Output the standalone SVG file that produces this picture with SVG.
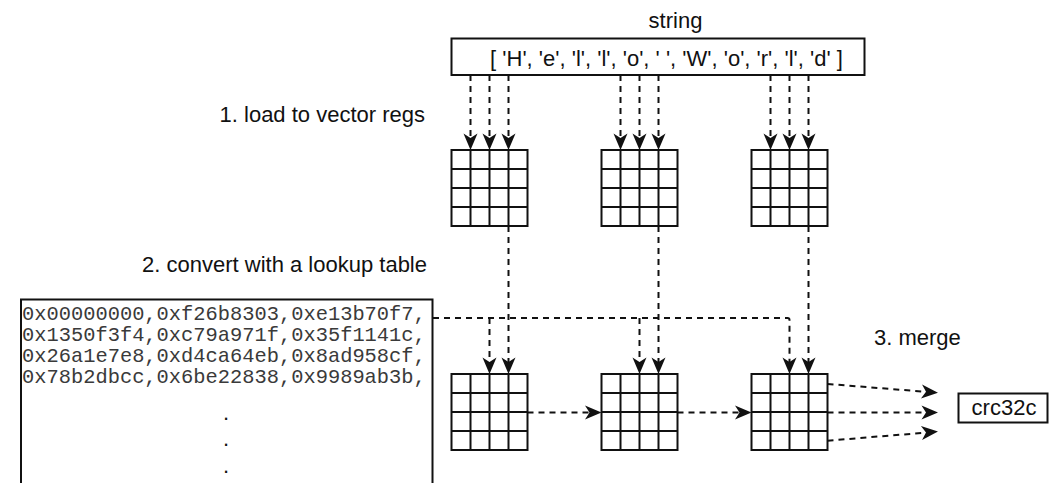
<svg xmlns="http://www.w3.org/2000/svg" width="1049" height="483" viewBox="0 0 1049 483">
<style>
.lbl{font-family:"Liberation Sans",Arial,sans-serif;font-size:22px;fill:#111}
.mono{font-family:"Liberation Mono","Courier New",monospace;font-size:20.4px;fill:#3a3a3a}
.box{fill:#fff;stroke:#111;stroke-width:2}
.grid{fill:#fff;stroke:#111;stroke-width:2}
.gl{stroke:#111;stroke-width:2;fill:none}
.dash{fill:none;stroke:#111;stroke-width:2;stroke-dasharray:6 5}
.arr{marker-end:url(#ah)}
</style>
<defs>
<marker id="ah" markerUnits="userSpaceOnUse" viewBox="-6 -8 19 16" refX="0" refY="0" markerWidth="19" markerHeight="16" orient="auto">
<path d="M12,0 L-4.5,-7 L0,0 L-4.5,7 Z" fill="#111"/>
</marker>
<g id="grid4">
<rect class="grid" x="0" y="0" width="76" height="76"/>
<path class="gl" d="M19,0V76M38,0V76M57,0V76M0,19H76M0,38H76M0,57H76"/>
</g>
</defs>
<rect width="1049" height="483" fill="#fff"/>

<g id="labels">
<text class="lbl" x="675.5" y="28" text-anchor="middle">string</text>
<text class="lbl" x="425" y="121.5" text-anchor="end">1. load to vector regs</text>
<text class="lbl" x="427" y="271.5" text-anchor="end">2. convert with a lookup table</text>
<text class="lbl" x="874" y="345">3. merge</text>
</g>

<g id="string-node">
<rect class="box" x="451.5" y="38.5" width="413" height="36.5"/>
<text class="lbl" x="666.5" y="66" text-anchor="middle">[ 'H', 'e', 'l', 'l', 'o', ' ', 'W', 'o', 'r', 'l', 'd' ]</text>
</g>

<g id="reg-top-1"><use href="#grid4" x="451.5" y="150"/></g>
<g id="reg-top-2"><use href="#grid4" x="601.5" y="150"/></g>
<g id="reg-top-3"><use href="#grid4" x="751.5" y="150"/></g>
<g id="reg-bot-1"><use href="#grid4" x="451.5" y="374"/></g>
<g id="reg-bot-2"><use href="#grid4" x="601.5" y="374"/></g>
<g id="reg-bot-3"><use href="#grid4" x="751.5" y="374"/></g>

<g id="lookup-table">
<rect class="box" x="21" y="299.5" width="411.5" height="200"/>
<text class="mono" x="22" y="319.5">0x00000000,0xf26b8303,0xe13b70f7,</text>
<text class="mono" x="22" y="340.7">0x1350f3f4,0xc79a971f,0x35f1141c,</text>
<text class="mono" x="22" y="361.9">0x26a1e7e8,0xd4ca64eb,0x8ad958cf,</text>
<text class="mono" x="22" y="383.1">0x78b2dbcc,0x6be22838,0x9989ab3b,</text>
<text class="lbl" x="226" y="419.5" text-anchor="middle">.</text>
<text class="lbl" x="226" y="446" text-anchor="middle">.</text>
<text class="lbl" x="226" y="472.5" text-anchor="middle">.</text>
</g>

<g id="crc32c-node">
<rect class="box" x="958.5" y="393.5" width="89" height="29"/>
<text class="lbl" x="1004" y="415" text-anchor="middle">crc32c</text>
</g>

<g id="connectors">
<path class="dash arr" d="M470.5,75V138"/>
<path class="dash arr" d="M489.5,75V138"/>
<path class="dash arr" d="M508.5,75V138"/>
<path class="dash arr" d="M620.5,75V138"/>
<path class="dash arr" d="M639.5,75V138"/>
<path class="dash arr" d="M658.5,75V138"/>
<path class="dash arr" d="M770.5,75V138"/>
<path class="dash arr" d="M789.5,75V138"/>
<path class="dash arr" d="M808.5,75V138"/>

<path class="dash arr" d="M508.5,226V362"/>
<path class="dash arr" d="M658.5,226V362"/>
<path class="dash arr" d="M808.5,226V362"/>

<path class="dash arr" d="M433,318H787.5Q789.5,318 789.5,320V362"/>
<path class="dash arr" d="M489.5,318V362"/>
<path class="dash arr" d="M639.5,318V362"/>

<path class="dash arr" d="M527.5,412.5H589.5"/>
<path class="dash arr" d="M677.5,412.5H739.5"/>

<path class="dash arr" d="M827.5,384L926,391.8"/>
<path class="dash arr" d="M827.5,412.5H926"/>
<path class="dash arr" d="M827.5,440.7L926,432.6"/>
</g>
</svg>
